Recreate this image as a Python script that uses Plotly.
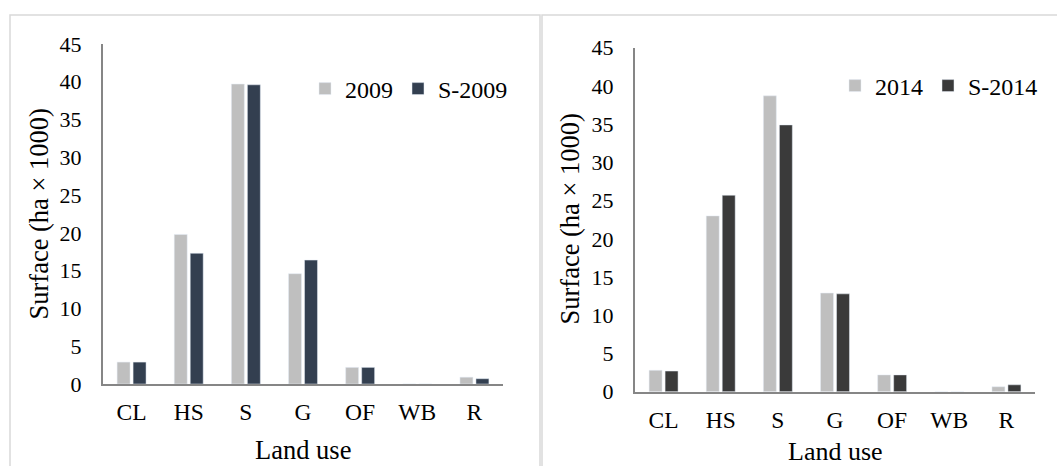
import plotly.graph_objects as go

W, H = 1057, 466

categories = ["CL", "HS", "S", "G", "OF", "WB", "R"]
obs_2009 = [2.9, 19.8, 39.7, 14.6, 2.2, 0.0, 0.9]
sim_2009 = [2.9, 17.3, 39.6, 16.4, 2.2, 0.0, 0.7]
obs_2014 = [2.8, 23.0, 38.7, 12.9, 2.2, 0.0, 0.65]
sim_2014 = [2.7, 25.7, 34.9, 12.8, 2.2, 0.0, 0.9]
y_ticks = [0, 5, 10, 15, 20, 25, 30, 35, 40, 45]

GRAY = "#BFBFBF"
NAVY = "#333F50"
DARK = "#3A3A3A"
FONT = "Liberation Serif"

def px(x):
    return x / W

def py(y):
    return (H - y) / H

fig = go.Figure()
fig.add_trace(go.Bar(x=categories, y=obs_2009, name="2009", marker_color=GRAY,
                     xaxis="x", yaxis="y", legend="legend"))
fig.add_trace(go.Bar(x=categories, y=sim_2009, name="S-2009", marker_color=NAVY,
                     xaxis="x", yaxis="y", legend="legend"))
fig.add_trace(go.Bar(x=categories, y=obs_2014, name="2014", marker_color=GRAY,
                     xaxis="x2", yaxis="y2", legend="legend2"))
fig.add_trace(go.Bar(x=categories, y=sim_2014, name="S-2014", marker_color=DARK,
                     xaxis="x2", yaxis="y2", legend="legend2"))

axis_line = dict(showline=True, linecolor="#868686", linewidth=2, showgrid=False,
                 zeroline=False, ticks="", automargin=False)
xfont = dict(family=FONT, size=23.5, color="#000000")
yfont = dict(family=FONT, size=22, color="#000000")

fig.update_layout(
    width=W, height=H, autosize=False,
    margin=dict(l=0, r=0, t=0, b=0, pad=0, autoexpand=False),
    paper_bgcolor="white", plot_bgcolor="white",
    barmode="group", bargap=0.44, bargroupgap=0.19,
    font=dict(family=FONT, color="#000000"),
    xaxis=dict(domain=[px(103), px(503)], anchor="y", tickfont=xfont,
               ticklabelstandoff=6, **axis_line),
    yaxis=dict(domain=[py(384), py(44)], anchor="x", range=[0, 45], tickvals=y_ticks,
               tickfont=yfont, ticklabelstandoff=15, **axis_line),
    xaxis2=dict(domain=[px(635), px(1035)], anchor="y2", tickfont=xfont,
                ticklabelstandoff=6, **axis_line),
    yaxis2=dict(domain=[py(391.7), py(47.7)], anchor="x2", range=[0, 45], tickvals=y_ticks,
                tickfont=yfont, ticklabelstandoff=15, **axis_line),
    legend=dict(orientation="h", x=px(305), y=py(89), xanchor="left", yanchor="middle",
                font=dict(family=FONT, size=24), bgcolor="rgba(0,0,0,0)"),
    legend2=dict(orientation="h", x=px(835), y=py(86), xanchor="left", yanchor="middle",
                 font=dict(family=FONT, size=24), bgcolor="rgba(0,0,0,0)"),
)

# panel borders
border = dict(color="#D9D9D9", width=1.5)
fig.add_shape(type="rect", xref="paper", yref="paper", x0=px(10), x1=px(540),
              y0=-0.05, y1=py(15), line=border, layer="below")
fig.add_shape(type="rect", xref="paper", yref="paper", x0=px(542), x1=1.05,
              y0=-0.05, y1=py(15), line=border, layer="below")

title_font = dict(family=FONT, size=26.5, color="#000000")
fig.add_annotation(text="Surface (ha × 1000)", textangle=-90, xref="paper", yref="paper",
                   x=px(38.5), y=py(214), xanchor="center", yanchor="middle",
                   showarrow=False, font=title_font)
fig.add_annotation(text="Surface (ha × 1000)", textangle=-90, xref="paper", yref="paper",
                   x=px(569.5), y=py(219), xanchor="center", yanchor="middle",
                   showarrow=False, font=title_font)
fig.add_annotation(text="Land use", xref="paper", yref="paper",
                   x=px(302.5), y=py(450), xanchor="center", yanchor="middle",
                   showarrow=False, font=title_font)
fig.add_annotation(text="Land use", xref="paper", yref="paper",
                   x=px(835), y=py(451), xanchor="center", yanchor="middle",
                   showarrow=False, font=dict(family=FONT, size=26, color="#000000"))

fig.write_html("out.html", config={"displayModeBar": False},
               post_script="document.body.style.margin='0';document.body.style.overflow='hidden';")
